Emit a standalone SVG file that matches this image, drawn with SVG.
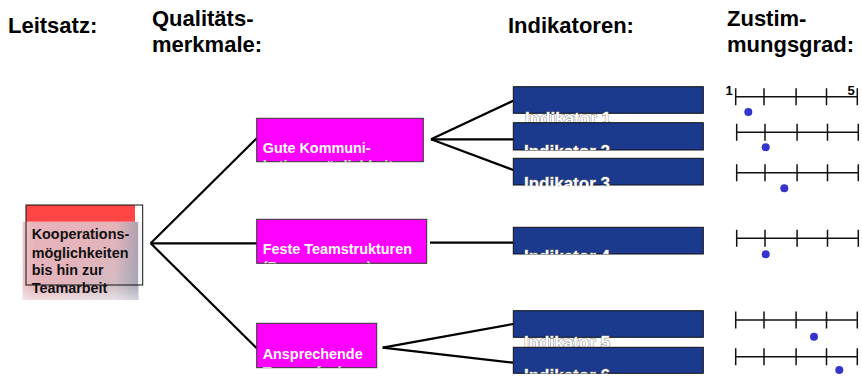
<svg xmlns="http://www.w3.org/2000/svg" width="862" height="376" viewBox="0 0 862 376">
<style>
.hdr{font-family:"Liberation Sans",Arial,sans-serif;font-weight:bold;font-size:22px;fill:#000}
.q{fill:#ff00ff;stroke:#333;stroke-width:1}
.qt{font-family:"Liberation Sans",Arial,sans-serif;font-weight:bold;font-size:14.4px;fill:#fff}
.ib{fill:#1b3a8e;stroke:#111;stroke-width:1}
.it{font-family:"Liberation Sans",Arial,sans-serif;font-weight:bold;font-size:17px;fill:#fff;stroke:#777;stroke-width:0.9;paint-order:stroke}
.lt{font-family:"Liberation Sans",Arial,sans-serif;font-weight:bold;font-size:14.4px;fill:#111}
.con line{stroke:#000;stroke-width:2.2}
.sc{fill:none;stroke:#111;stroke-width:1.5}
.dot{fill:#3434cf}
.num{font-family:"Liberation Sans",Arial,sans-serif;font-weight:bold;font-size:13px;fill:#000}
</style>
<defs>
<linearGradient id="gPink" x1="0" y1="0" x2="1" y2="1">
<stop offset="0" stop-color="#e9b3bb"/>
<stop offset="0.55" stop-color="#e2b4bb"/>
<stop offset="1" stop-color="#c4c3cb"/>
</linearGradient>
<linearGradient id="gShade" x1="0" y1="0" x2="1" y2="0">
<stop offset="0" stop-color="#fff" stop-opacity="0.25"/>
<stop offset="0.1" stop-color="#fff" stop-opacity="0"/>
<stop offset="0.8" stop-color="#8890a4" stop-opacity="0"/>
<stop offset="1" stop-color="#8890a4" stop-opacity="0.55"/>
</linearGradient>
<linearGradient id="gBottom" x1="0" y1="0" x2="0" y2="1">
<stop offset="0" stop-color="#fff" stop-opacity="0"/>
<stop offset="0.8" stop-color="#fff" stop-opacity="0"/>
<stop offset="1" stop-color="#fff" stop-opacity="0.5"/>
</linearGradient>
<clipPath id="cq1"><rect x="256.7" y="118.3" width="166.6" height="43.4"/></clipPath>
<clipPath id="cq2"><rect x="256.7" y="219.3" width="170" height="44"/></clipPath>
<clipPath id="cq3"><rect x="256.7" y="323.3" width="120" height="44.4"/></clipPath>
<clipPath id="ci1"><rect x="513" y="86.7" width="191" height="36"/></clipPath>
<clipPath id="ci2"><rect x="513" y="122.7" width="191" height="27.6"/></clipPath>
<clipPath id="ci3"><rect x="513" y="158.3" width="191" height="28"/></clipPath>
<clipPath id="ci4"><rect x="513" y="227.3" width="191" height="27"/></clipPath>
<clipPath id="ci5"><rect x="513" y="310.7" width="191" height="36.6"/></clipPath>
<clipPath id="ci6"><rect x="513" y="347.3" width="191" height="26.3"/></clipPath>
<g id="scale">
<path class="sc" d="M0,0H121.6M0,-8.5V8.5M28.3,-8.5V8.5M60.4,-8.5V8.5M90.8,-8.5V8.5M121.6,-8.5V8.5"/>
</g>
</defs>
<rect width="862" height="376" fill="#fff"/>

<g id="headers">
<text class="hdr" x="8" y="33">Leitsatz:</text>
<text class="hdr" x="152" y="26">Qualitäts-</text>
<text class="hdr" x="152" y="52">merkmale:</text>
<text class="hdr" x="508" y="33">Indikatoren:</text>
<text class="hdr" x="727" y="26">Zustim-</text>
<text class="hdr" x="727" y="52">mungsgrad:</text>
</g>

<g class="con" id="connectors">
<line x1="150.7" y1="243.3" x2="256.7" y2="138.3"/>
<line x1="150.7" y1="243.3" x2="256.7" y2="243.3"/>
<line x1="150.7" y1="243.3" x2="256.7" y2="348.3"/>
<line x1="431" y1="139.3" x2="513.3" y2="100.7"/>
<line x1="431" y1="139.3" x2="513.3" y2="139.3"/>
<line x1="431" y1="139.3" x2="513.3" y2="170"/>
<line x1="430" y1="242.7" x2="513.3" y2="242.7"/>
<line x1="382.7" y1="347.7" x2="513.3" y2="324"/>
<line x1="382.7" y1="347.7" x2="513.3" y2="362.7"/>
</g>

<g id="leitsatz">
<rect x="22.7" y="221.7" width="115.6" height="78.3" fill="url(#gPink)"/>
<rect x="22.7" y="221.7" width="115.6" height="78.3" fill="url(#gShade)"/>
<rect x="22.7" y="221.7" width="115.6" height="78.3" fill="url(#gBottom)"/>
<rect x="26" y="205" width="109" height="16.7" fill="#ff4545"/>
<rect x="135" y="205" width="7.7" height="16.7" fill="#fff"/>
<rect x="138.3" y="221.7" width="4.4" height="63.3" fill="#f4f4f6"/>
<rect x="26" y="205" width="116.7" height="80" fill="none" stroke="#111" stroke-width="1"/>
<text class="lt" x="31.7" y="239">Kooperations-</text>
<text class="lt" x="31.7" y="257.5">möglichkeiten</text>
<text class="lt" x="31.7" y="275">bis hin zur</text>
<text class="lt" x="31.7" y="292.7">Teamarbeit</text>
</g>

<g id="q1">
<rect class="q" x="256.7" y="118.3" width="166.6" height="43.4"/>
<g clip-path="url(#cq1)">
<text class="qt" x="262.7" y="152.7">Gute Kommuni-</text>
<text class="qt" x="262.7" y="170.7">kationsmöglichkeiten</text>
</g>
</g>
<g id="q2">
<rect class="q" x="256.7" y="219.3" width="170" height="44"/>
<g clip-path="url(#cq2)">
<text class="qt" x="262.7" y="254.3">Feste Teamstrukturen</text>
<text class="qt" x="262.7" y="272.3">(Bezugsperson)</text>
</g>
</g>
<g id="q3">
<rect class="q" x="256.7" y="323.3" width="120" height="44.4"/>
<g clip-path="url(#cq3)">
<text class="qt" x="262.7" y="359.3">Ansprechende</text>
<text class="qt" x="262.7" y="377.3">Teamaufgaben</text>
</g>
</g>

<g id="i1">
<rect class="ib" x="513.3" y="86.7" width="190" height="26.6"/>
<text class="it" x="525" y="124" clip-path="url(#ci1)">Indikator 1</text>
</g>
<g id="i2">
<rect class="ib" x="513.3" y="122.7" width="190" height="27.3"/>
<text class="it" x="524" y="157" clip-path="url(#ci2)">Indikator 2</text>
</g>
<g id="i3">
<rect class="ib" x="513.3" y="158.3" width="190" height="26.7"/>
<text class="it" x="524" y="189" clip-path="url(#ci3)">Indikator 3</text>
</g>
<g id="i4">
<rect class="ib" x="513.3" y="227.3" width="190" height="26.7"/>
<text class="it" x="524" y="262" clip-path="url(#ci4)">Indikator 4</text>
</g>
<g id="i5">
<rect class="ib" x="513.3" y="310.7" width="190" height="26.6"/>
<text class="it" x="524" y="348" clip-path="url(#ci5)">Indikator 5</text>
</g>
<g id="i6">
<rect class="ib" x="513.3" y="347.3" width="190" height="26"/>
<text class="it" x="524" y="381" clip-path="url(#ci6)">Indikator 6</text>
</g>

<g id="scales">
<text class="num" x="725.5" y="95">1</text>
<text class="num" x="847.5" y="95">5</text>
<use href="#scale" x="735.7" y="96.7"/>
<use href="#scale" x="736.7" y="132.3"/>
<use href="#scale" x="736.7" y="172.7"/>
<use href="#scale" x="736.7" y="238.3"/>
<use href="#scale" x="735.7" y="320"/>
<use href="#scale" x="735.7" y="356.7"/>
<circle class="dot" cx="748.3" cy="112" r="4"/>
<circle class="dot" cx="765.7" cy="147.3" r="4"/>
<circle class="dot" cx="784.3" cy="188.3" r="4"/>
<circle class="dot" cx="765.7" cy="254.3" r="4"/>
<circle class="dot" cx="814" cy="336.7" r="4"/>
<circle class="dot" cx="839.3" cy="370" r="4"/>
</g>
</svg>
